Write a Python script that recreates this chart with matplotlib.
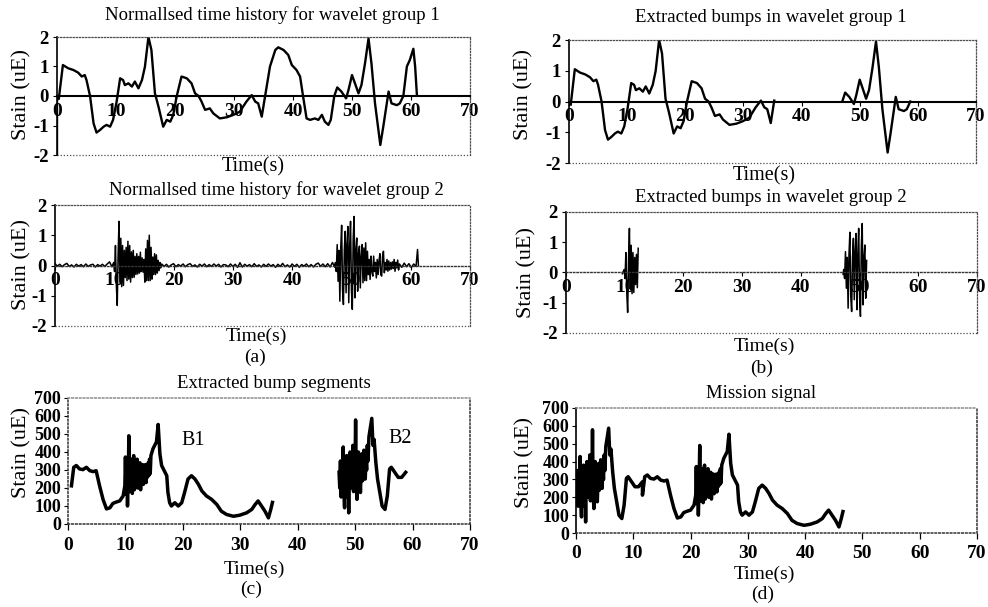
import numpy as np
import matplotlib.pyplot as plt

plt.rcParams['font.family'] = ['Liberation Serif', 'DejaVu Serif']
plt.rcParams['axes.unicode_minus'] = False

# ---- data ----
# (a) top: normalised time history, wavelet group 1  (time s, strain)
a1_points = [(0.0, -2.0), (0.0, -0.1), (0.3, -0.1), (1.0, 1.05), (1.9, 0.94), (2.8, 0.88),
             (3.6, 0.79), (4.2, 0.66), (4.7, 0.71), (5.0, 0.54), (5.6, 0.0), (6.2, -0.93),
             (6.7, -1.24), (7.3, -1.15), (7.9, -1.04), (8.4, -0.98), (9.0, -1.04), (9.5, -0.81),
             (10.1, -0.2), (10.7, 0.6), (11.2, 0.54), (11.5, 0.37), (12.1, 0.43), (12.7, 0.32),
             (13.2, 0.49), (13.8, 0.26), (14.4, 0.54), (14.9, 0.99), (15.5, 2.0), (16.0, 1.56),
             (16.6, 0.09), (17.2, -0.36), (18.0, -1.04), (18.6, -0.81), (19.2, -0.87), (19.7, -0.64),
             (20.3, 0.0), (21.1, 0.66), (22.0, 0.6), (22.8, 0.43), (23.4, 0.09), (24.0, 0.0),
             (24.5, -0.19), (25.1, -0.47), (25.9, -0.42), (26.5, -0.59), (27.6, -0.76), (28.8, -0.72),
             (29.9, -0.64), (31.0, -0.53), (32.1, -0.19), (33.0, 0.03), (33.6, -0.19), (34.1, -0.25),
             (34.7, -0.7), (35.3, 0.03), (36.1, 1.0), (37.0, 1.56), (37.5, 1.65), (38.4, 1.56),
             (39.2, 1.39), (39.8, 1.05), (40.6, 0.88), (41.2, 0.66), (41.7, 0.0), (42.3, -0.76),
             (42.9, -0.81), (43.7, -0.76), (44.3, -0.81), (44.9, -0.64), (45.4, -0.87), (46.0, -0.98),
             (46.4, -0.81), (47.0, 0.0), (47.5, 0.29), (48.2, 0.15), (49.0, -0.08), (49.4, 0.2),
             (50.0, 0.71), (50.5, 0.43), (51.1, 0.09), (51.6, 0.37), (52.2, 1.1), (52.8, 1.95),
             (53.3, 1.1), (53.9, -0.25), (54.8, -1.66), (55.3, -1.04), (56.2, 0.15), (56.7, -0.25),
             (57.6, -0.31), (58.1, -0.25), (58.7, 0.0), (59.3, 1.0), (59.8, 1.22), (60.4, 1.6),
             (60.7, 1.0), (61.0, 0.03)]

# (a) bottom: wavelet group 2, quiet stretches and bursts (start time, step, values)
a2_quiet1_start, a2_quiet1_step = 0.0, 0.4
a2_quiet1 = [0.06, -0.02, 0.04, -0.04, 0.03, 0.07, -0.03, 0.02, -0.05, 0.04, -0.02, 0.03, -0.04,
             0.05, -0.03, 0.02, 0.04, -0.05, 0.03, -0.02, 0.04, -0.03, 0.05, 0.12, -0.04]
a2_burst1_start, a2_burst1_step = 9.9, 0.15
a2_burst1 = [0.1, -0.2, 0.66, -0.66, -1.32, 0.4, 1.46, -0.55, 0.9, -0.7,
             0.66, -0.66, 0.5, -0.4, 0.6, -0.5, 0.8, -0.45, 0.66, -0.55,
             0.45, -0.4, 0.5, -0.39, 0.3, -0.3, 0.39, -0.28, 0.3, -0.25,
             0.44, -0.2, 0.25, -0.22, 0.2, -0.55, 0.55, -0.5, 0.83, -0.5,
             1.0, -0.5, 0.6, -0.45, 0.28, -0.3, 0.39, -0.3, 0.35, -0.25,
             0.17, -0.17, 0.1, -0.08]
a2_quiet2_start, a2_quiet2_step = 18.0, 0.4
a2_quiet2 = [0.05, -0.03, 0.04, -0.05, 0.02, 0.06, -0.04, 0.03, -0.02, 0.05, -0.04, 0.03, 0.06, -0.03,
             0.02, -0.05, 0.04, -0.02, 0.05, -0.04, 0.03, -0.03, 0.05, -0.02, 0.04, -0.05, 0.03, 0.02,
             -0.04, 0.05, -0.03, 0.04, -0.06, 0.09, -0.05, 0.04, -0.02, 0.03, -0.04, 0.06, -0.03, 0.02,
             -0.05, 0.04, -0.03, 0.05, -0.02, 0.03, -0.06, 0.04, -0.03, 0.07, -0.04, 0.02, -0.05, 0.05,
             -0.03, 0.04, -0.06, 0.03, -0.02, 0.05, -0.04, 0.03, -0.05, 0.04, 0.08, -0.03, 0.05, -0.04,
             0.06, -0.05, 0.1, -0.06]
a2_burst2_start, a2_burst2_step = 47.3, 0.15
a2_burst2 = [0.1, -0.2, 0.69, -0.52, 0.5, -1.18, 0.6, 1.33, -0.8, -1.29,
             0.5, 1.13, -0.9, 0.7, 1.29, -1.23, 0.6, 1.46, -0.8, -1.45,
             0.9, 1.62, -1.07, 0.5, 0.91, -0.85, 0.4, 0.64, -0.74, 0.3,
             0.69, -0.57, 0.58, -0.5, 0.75, -0.5, 0.47, -0.3, 0.2, -0.46,
             0.31, -0.2, -0.35, 0.31, -0.2, 0.1, -0.41, 0.2, -0.3, 0.15,
             0.39, -0.3, -0.35, 0.3, 0.47, -0.24, 0.1, -0.15, 0.2, -0.19,
             0.15, -0.15, 0.1, -0.12, 0.12, -0.1, 0.2, -0.19, 0.1, -0.08,
             0.18, -0.15]
a2_quiet3_start, a2_quiet3_step = 58.1, 0.4
a2_quiet3 = [0.05, -0.06, 0.08, -0.04, 0.06, -0.07, 0.05, -0.03]
a2_end = [(61.15, 0.53), (61.3, 0.0)]

# time windows kept as "bumps" in (b)
b1_windows = [(0.3, 35.3), (47.0, 58.7)]
b2_windows = [(9.5, 12.3), (47.2, 51.3)]

# (c) extracted bump segments B1 and B2
c_b1_head = [(0.6, 212), (1.0, 315), (1.45, 325), (2.0, 306), (2.6, 302), (3.2, 315), (3.8, 296),
             (4.4, 291), (4.9, 296), (5.5, 212), (6.1, 137), (6.7, 84), (7.3, 90), (7.8, 114),
             (8.4, 122), (9.0, 128), (9.6, 156), (9.9, 212)]
c_b1_noise_start, c_b1_noise_step = 10.0, 0.12
c_b1_noise = [372, 165, 300, 100, 250, 490, 180, 340, 200, 360, 170, 330, 380, 190, 350, 210, 280,
              360, 200, 320, 230, 340, 190, 300, 250, 330, 220, 310, 240, 330, 230, 320, 260, 340,
              270, 360, 280, 380]
c_b1_tail = [(14.8, 418), (15.1, 437), (15.4, 456), (15.7, 553), (16.0, 390), (16.3, 325), (16.6, 306),
             (16.9, 287), (17.2, 268), (17.4, 175), (17.7, 118), (18.0, 100), (18.6, 118), (19.2, 100),
             (19.8, 118), (20.3, 175), (20.9, 250), (21.5, 268), (22.1, 250), (22.7, 221), (23.3, 184),
             (24.1, 156), (25.0, 137), (25.9, 109), (26.7, 71), (27.6, 53), (28.8, 43), (29.9, 49),
             (31.1, 62), (32.0, 81), (32.6, 109), (33.1, 128), (33.7, 100), (34.3, 71), (34.9, 34),
             (35.3, 80), (35.6, 120)]
c_b2_noise_start, c_b2_noise_step = 47.2, 0.12
c_b2_noise = [287, 200, 350, 150, 300, 220, 428, 180, 90, 330, 240, 380, 150, 300, 62, 320, 400, 200,
              350, 220, 437, 180, 330, 250, 578, 220, 137, 350, 400, 230, 320, 175, 300, 390, 240, 330,
              410, 280, 250, 360, 300, 437, 350]
c_b2_tail = [(52.4, 484), (52.9, 587), (53.1, 437), (53.3, 470), (53.6, 343), (53.9, 250), (54.4, 156),
             (54.7, 100), (55.2, 81), (55.6, 156), (56.0, 306), (56.3, 315), (56.9, 287), (57.5, 259),
             (58.1, 259), (58.8, 287)]
b1_shift_in_mission = 11.0

x_ticks = [0, 10, 20, 30, 40, 50, 60, 70]
wave_yticks = [-2, -1, 0, 1, 2]
strain_yticks = [0, 100, 200, 300, 400, 500, 600, 700]


def stepped(start, step, vals):
    return start + step * np.arange(len(vals)), np.array(vals, float)


def pairs(p):
    arr = np.array(p, float)
    return arr[:, 0], arr[:, 1]


def keep(t, v, windows):
    m = np.zeros(len(t), bool)
    for lo, hi in windows:
        m |= (t >= lo) & (t <= hi)
    return np.where(m, v, np.nan)


a1_t, a1_v = pairs(a1_points)

parts = [stepped(a2_quiet1_start, a2_quiet1_step, a2_quiet1),
         stepped(a2_burst1_start, a2_burst1_step, a2_burst1),
         stepped(a2_quiet2_start, a2_quiet2_step, a2_quiet2),
         stepped(a2_burst2_start, a2_burst2_step, a2_burst2),
         stepped(a2_quiet3_start, a2_quiet3_step, a2_quiet3),
         pairs(a2_end)]
a2_t = np.concatenate([p[0] for p in parts])
a2_v = np.concatenate([p[1] for p in parts])

parts = [pairs(c_b1_head), stepped(c_b1_noise_start, c_b1_noise_step, c_b1_noise), pairs(c_b1_tail)]
b1c_t = np.concatenate([p[0] for p in parts])
b1c_v = np.concatenate([p[1] for p in parts])
parts = [stepped(c_b2_noise_start, c_b2_noise_step, c_b2_noise), pairs(c_b2_tail)]
b2c_t = np.concatenate([p[0] for p in parts])
b2c_v = np.concatenate([p[1] for p in parts])

# mission signal: B2 first, then B1
d_t = np.concatenate([b2c_t - b2c_t[0], b1c_t + b1_shift_in_mission])
d_v = np.concatenate([b2c_v, b1c_v])

# ---- figure ----
W, H = 988, 607
fig = plt.figure(figsize=(W / 100, H / 100), dpi=100)


def box(l, t, r, b):
    return [l / W, 1 - b / H, (r - l) / W, (b - t) / H]


def ftext(x, y, s, size=14, rot=0):
    fig.text(x / W, 1 - y / H, s, ha='center', va='center', fontsize=size, rotation=rot)


DOT = dict(linestyle=(0, (1, 1.5)), color='0.3', linewidth=0.9)


def bold_ticks(ax):
    for lab in ax.get_xticklabels() + ax.get_yticklabels():
        lab.set_fontweight('bold')


def wave_axes(rect, zero_solid):
    ax = fig.add_axes(rect)
    ax.set_xlim(0, 70)
    ax.set_ylim(-2, 2)
    ax.set_xticks(x_ticks)
    ax.set_xticklabels([str(x) for x in x_ticks])
    ax.set_yticks(wave_yticks)
    ax.set_yticklabels([str(y) for y in wave_yticks])
    ax.spines['bottom'].set_position(('data', 0))
    if zero_solid:
        ax.spines['bottom'].set_linewidth(1.5)
        ax.spines['bottom'].set_color('black')
    else:
        ax.spines['bottom'].set_linestyle(DOT['linestyle'])
        ax.spines['bottom'].set_color('0.2')
        ax.spines['bottom'].set_linewidth(1.0)
    for s in ['top', 'right']:
        ax.spines[s].set_linestyle(DOT['linestyle'])
        ax.spines[s].set_color(DOT['color'])
        ax.spines[s].set_linewidth(DOT['linewidth'])
    ax.spines['left'].set_linewidth(1.2)
    ax.axhline(-2, clip_on=False, **DOT)
    ax.tick_params(axis='x', length=3, width=0.8, pad=2, labelsize=14)
    ax.tick_params(axis='y', length=3, width=0.8, pad=3, labelsize=13.5)
    bold_ticks(ax)
    return ax


def strain_axes(rect, left_solid):
    ax = fig.add_axes(rect)
    ax.set_xlim(0, 70)
    ax.set_ylim(0, 700)
    ax.set_xticks(x_ticks)
    ax.set_xticklabels([str(x) for x in x_ticks])
    ax.set_yticks(strain_yticks)
    ax.set_yticklabels([str(y) for y in strain_yticks])
    names = ['top', 'right', 'bottom'] + ([] if left_solid else ['left'])
    for s in names:
        ax.spines[s].set_linestyle(DOT['linestyle'])
        ax.spines[s].set_color('0.2')
        ax.spines[s].set_linewidth(1.1)
    ax.spines['top'].set_color('0.55')
    if left_solid:
        ax.spines['left'].set_linewidth(1.2)
    ax.tick_params(axis='x', length=4, width=0.9, pad=5, labelsize=14)
    ax.tick_params(axis='y', length=3, width=0.8, pad=2, labelsize=13)
    bold_ticks(ax)
    return ax


# (a)
ax = wave_axes(box(57, 37, 470, 155), True)
ax.plot(a1_t, a1_v, color='black', lw=1.7)
ftext(272, 15, 'Normallsed time history for wavelet group 1', 13.5)
ftext(253, 167, 'Time(s)', 14.5)
ftext(22, 95, 'Stain (uE)', 16, 90)

ax = wave_axes(box(55, 205, 470, 326), False)
ax.plot(a2_t, a2_v, color='black', lw=1.1)
ftext(276, 190, 'Normallsed time history for wavelet group 2', 13.5)
ftext(256, 336, 'Time(s)', 14)
ftext(255, 357, '(a)', 14)
ftext(22, 265, 'Stain (uE)', 16, 90)

# (b)
ax = wave_axes(box(569, 40, 976, 163), True)
ax.plot(a1_t, keep(a1_t, a1_v, b1_windows), color='black', lw=1.7)
ftext(771, 17, 'Extracted bumps in wavelet group 1', 13.5)
ftext(764, 176, 'Time(s)', 14.5)
ftext(524, 95, 'Stain (uE)', 16, 90)

ax = wave_axes(box(566, 212, 977, 333), False)
ax.plot(a2_t, keep(a2_t, a2_v, b2_windows), color='black', lw=1.1)
ftext(771, 198, 'Extracted bumps in wavelet group 2', 13.5)
ftext(764, 346, 'Time(s)', 14)
ftext(762, 368, '(b)', 14)
ftext(527, 272, 'Stain (uE)', 16, 90)

# (c)
ax = strain_axes(box(68, 398, 470, 524), False)
ax.plot(b1c_t, b1c_v, color='black', lw=2.5)
ax.plot(b2c_t, b2c_v, color='black', lw=2.5)
ax.text(21.8, 462, 'B1', ha='center', va='center', fontsize=14.5)
ax.text(57.8, 473, 'B2', ha='center', va='center', fontsize=14.5)
ftext(274, 383, 'Extracted bump segments', 13.5)
ftext(254, 569, 'Time(s)', 14)
ftext(251, 589, '(c)', 14)
ftext(22, 453, 'Stain (uE)', 16, 90)

# (d)
ax = strain_axes(box(576, 408, 977, 533), True)
ax.plot(d_t, d_v, color='black', lw=2.5)
ftext(761, 394, 'Mission signal', 13.5)
ftext(764, 574, 'Time(s)', 14)
ftext(763, 594, '(d)', 14)
ftext(525, 463, 'Stain (uE)', 16, 90)

fig.savefig('out.png', dpi=100)
